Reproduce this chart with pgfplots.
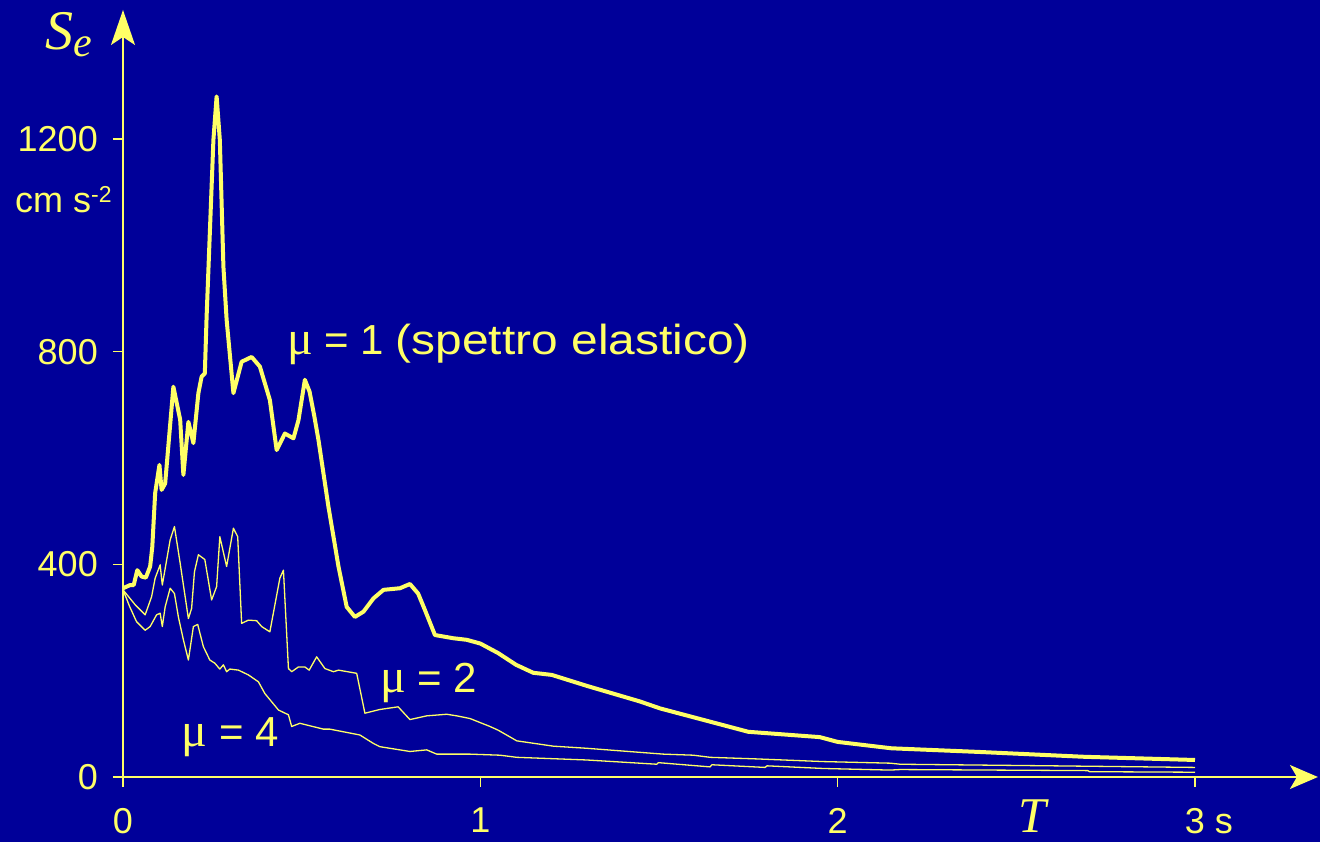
\documentclass[border=0pt]{standalone}
\usepackage{pgfplots}
\pgfplotsset{compat=1.18}
\usepackage{fontspec}
\setmainfont{Liberation Sans}
\newfontfamily\serif{Liberation Serif}
\usetikzlibrary{arrows.meta}
\definecolor{bg}{RGB}{0,0,153}
\definecolor{yel}{RGB}{255,255,102}
\newcommand{\mulab}[1]{{\serif\fontsize{48}{52}\selectfont μ}\fontsize{42}{48}\selectfont\ = #1}

\pgfplotstableread{
T S
0 355
0.02 361
0.03 361
0.04 389
0.052 377
0.064 375
0.076 396
0.082 433
0.09 534
0.102 587
0.108 540
0.118 552
0.141 734
0.16 672
0.169 568
0.183 668
0.197 628
0.211 722
0.22 753
0.229 759
0.234 866
0.253 1198
0.262 1280
0.271 1198
0.281 960
0.29 860
0.309 722
0.332 781
0.36 790
0.383 772
0.411 709
0.43 615
0.453 646
0.477 637
0.491 671
0.509 747
0.522 725
0.535 680
0.547 634
0.575 508
0.603 396
0.626 320
0.649 301
0.673 311
0.701 336
0.729 352
0.775 355
0.803 363
0.826 345
0.845 314
0.873 267
0.924 261
0.962 258
1.0 251
1.05 233
1.10 211
1.148 196
1.20 192
1.30 171
1.447 142
1.503 129
1.75 85
1.95 75
2.0 66
2.15 54
2.4 47
2.69 38
3.0 32
}\muone

\pgfplotstableread{
T S
0 352
0.034 324
0.062 305
0.080 339
0.090 374
0.104 399
0.110 361
0.132 446
0.144 471
0.160 402
0.183 298
0.192 317
0.200 386
0.211 418
0.229 409
0.248 333
0.262 358
0.271 452
0.290 396
0.309 468
0.321 452
0.332 289
0.351 295
0.374 294
0.388 283
0.411 273
0.439 374
0.449 389
0.463 204
0.472 198
0.491 207
0.509 207
0.521 201
0.542 226
0.565 204
0.589 198
0.603 201
0.654 195
0.677 120
0.719 127
0.770 132
0.803 108
0.850 115
0.906 118
0.934 115
0.971 110
1.027 95
1.050 88
1.102 68
1.204 58
1.298 54
1.512 43
1.596 41
1.643 37
1.774 34
1.960 29
2.147 26
2.175 24
2.6 21
3.0 18
}\mutwo

\pgfplotstableread{
T S
0 352
0.019 320
0.038 292
0.062 276
0.076 283
0.094 305
0.104 308
0.110 283
0.118 320
0.132 355
0.144 345
0.155 301
0.169 258
0.183 220
0.197 283
0.209 287
0.225 245
0.243 220
0.257 214
0.271 203
0.281 211
0.290 198
0.299 203
0.323 201
0.351 192
0.379 179
0.397 157
0.435 126
0.463 117
0.472 95
0.495 101
0.561 90
0.579 90
0.663 79
0.701 63
0.719 57
0.803 48
0.850 51
0.878 43
0.971 43
1.055 41
1.102 37
1.298 32
1.494 24
1.498 27
1.643 19
1.648 23
1.797 18
1.802 21
1.960 16
2.147 13
2.175 14
2.70 12
2.705 10
3.0 9
}\mufour

\begin{document}
\begin{tikzpicture}
\fill[bg] (-123pt,-65pt) rectangle (1197pt,777pt);
\begin{axis}[
  at={(0pt,0pt)}, anchor=origin,
  x=357.33pt, y=0.53167pt,
  xmin=0, xmax=3.344, ymin=0, ymax=1442.6,
  enlargelimits=false, clip=false,
  axis lines=left,
  axis line style={yel, line width=1.5pt},
  x axis line style={-{Stealth[length=28pt,width=24pt,inset=7pt]}},
  y axis line style={-{Stealth[length=35pt,width=24pt,inset=8pt]}},
  xtick={0,1,2,3}, ytick={0,400,800,1200},
  xticklabels={0,1,2,3\makebox[0pt][l]{\ s}},
  yticklabels={0,400,800,1200},
  tick align=outside, major tick length=10pt,
  tick style={yel, line width=1.5pt},
  ticklabel style={text=yel, font=\fontsize{36}{40}\selectfont, inner sep=0pt},
  xticklabel style={anchor=north, yshift=-21pt},
  yticklabel style={anchor=east, xshift=-15pt},
]
\addplot[yel, line width=1.3pt, line join=round] table[x=T,y=S] {\mufour};
\addplot[yel, line width=1.3pt, line join=round] table[x=T,y=S] {\mutwo};
\addplot[yel, line width=4pt, line join=round] table[x=T,y=S] {\muone};

\node[anchor=base west, text=yel, inner sep=0pt] at (axis cs:0.459,793.7) {\mulab{1 \scalebox{1.14}[1]{(spettro elastico)}}};
\node[anchor=base west, text=yel, inner sep=0pt] at (axis cs:0.719,158) {\mulab{2}};
\node[anchor=base west, text=yel, inner sep=0pt] at (axis cs:0.164,58) {\mulab{4}};
\node[anchor=base west, text=yel, inner sep=0pt] at (axis cs:-0.218,1367.4) {\serif\itshape\fontsize{56}{60}\selectfont S\raisebox{-7pt}{\fontsize{42}{44}\selectfont e}};
\node[anchor=base west, text=yel, inner sep=0pt] at (axis cs:-0.3022,1060.8) {\fontsize{36}{40}\selectfont cm s\raisebox{10pt}{\fontsize{23}{26}\selectfont -2}};
\node[anchor=base west, text=yel, inner sep=0pt] at (axis cs:2.505,-103.5) {\serif\itshape\fontsize{50}{54}\selectfont T};
\end{axis}
\pgfresetboundingbox
\useasboundingbox (-123pt,-65pt) rectangle (1197pt,777pt);
\end{tikzpicture}
\end{document}
